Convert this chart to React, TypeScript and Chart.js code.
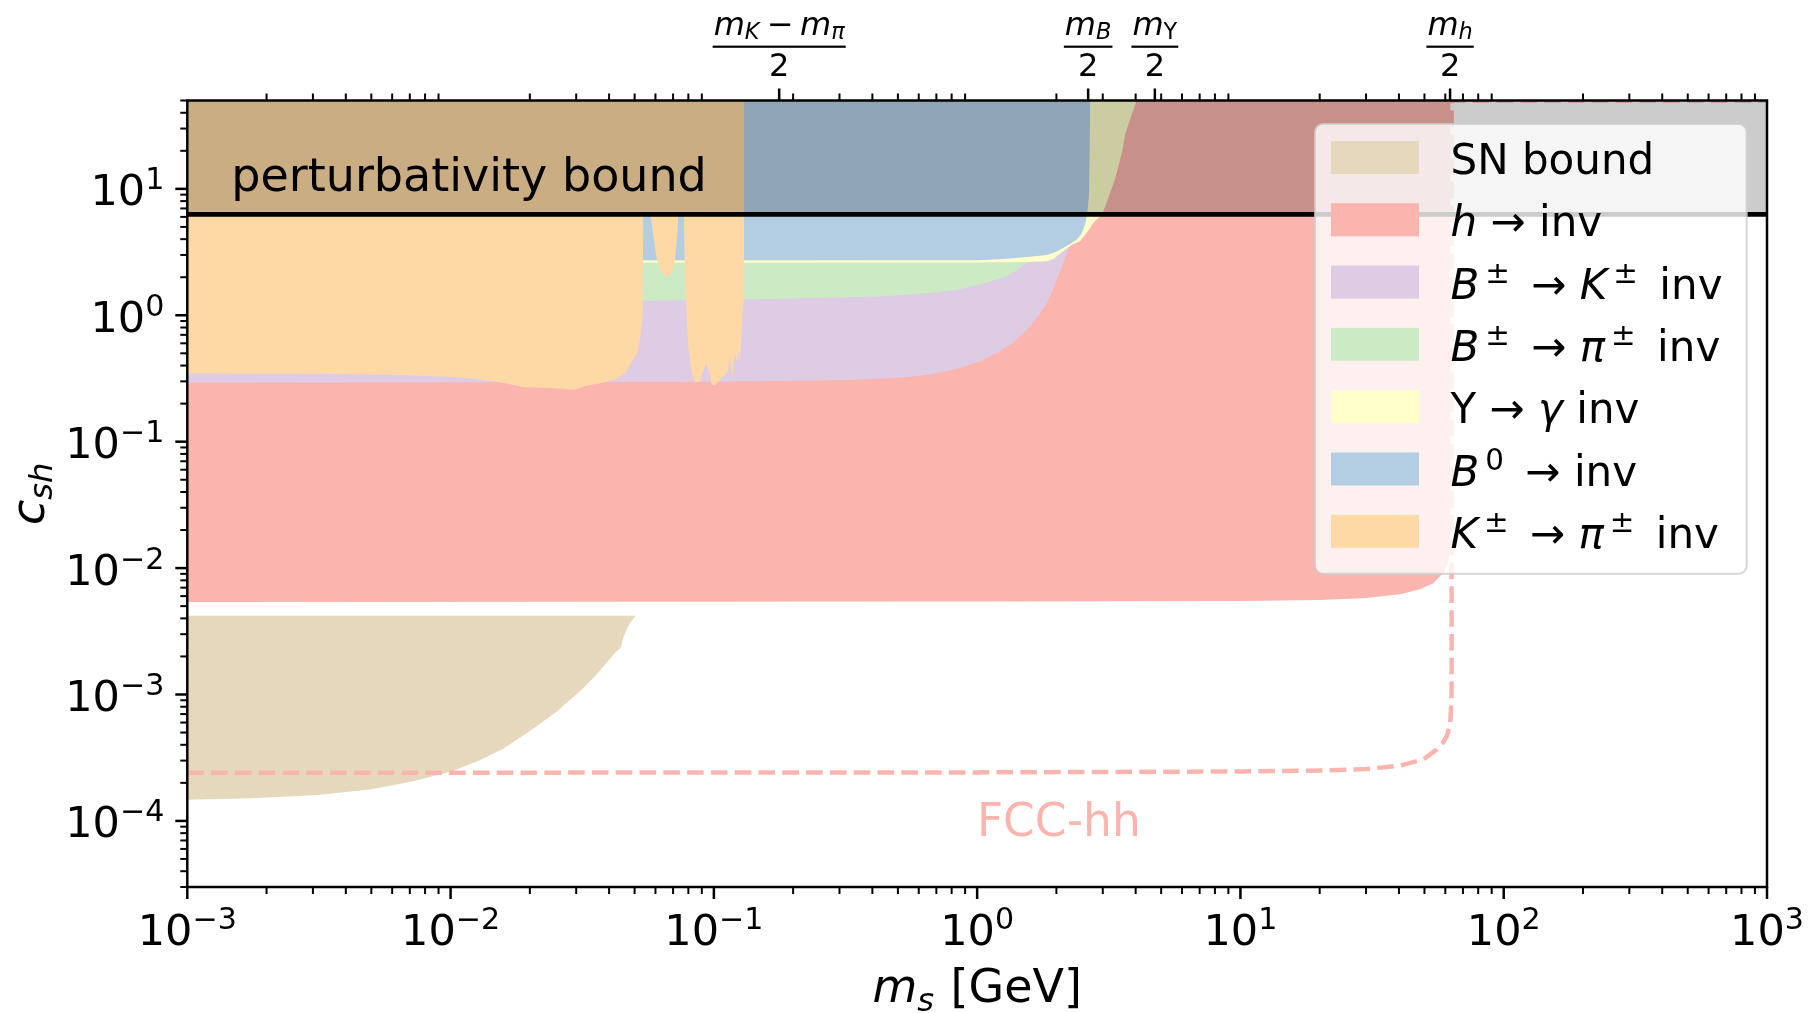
import React, { useEffect, useRef } from 'react';
import { Chart, registerables } from 'chart.js';

Chart.register(...registerables);

// ---------------- data ----------------
const X_MIN = 1e-3;
const X_MAX = 1e3;
const Y_MIN = 3e-5;
const Y_MAX = 50;

const X_TICK_VALUES = [1e-3, 1e-2, 1e-1, 1, 10, 100, 1000];
const X_TICK_LABELS = ['$10^{−3}$', '$10^{−2}$', '$10^{−1}$', '$10^{0}$', '$10^{1}$', '$10^{2}$', '$10^{3}$'];
const Y_TICK_VALUES = [1e-4, 1e-3, 1e-2, 1e-1, 1, 10];
const Y_TICK_LABELS = ['$10^{−4}$', '$10^{−3}$', '$10^{−2}$', '$10^{−1}$', '$10^{0}$', '$10^{1}$'];

const TOP_TICK_MASSES = [0.17705, 2.6397, 4.7302, 62.55];
const TOP_TICK_NUMERATORS = ['$m_K$\u2009−\u2009$m_π$', '$m_B$', '$m_Υ$', '$m_h$'];
const TOP_TICK_DENOMINATOR = '2';

const X_TITLE = '$m_s$ [GeV]';
const Y_TITLE = '$c_{sh}$';

const PERTURBATIVITY_VALUE = 6.28;
const PERTURBATIVITY_LINE: [number, number][] = [[1e-3, PERTURBATIVITY_VALUE], [1e3, PERTURBATIVITY_VALUE]];
const PERTURBATIVITY_TEXT = 'perturbativity bound';
const PERTURBATIVITY_TEXT_AT: [number, number] = [0.00147, 9.7];
const FCC_TEXT = 'FCC-hh';
const FCC_TEXT_AT: [number, number] = [0.998, 7.65e-5];

// lower boundaries of the excluded regions (mass [GeV], c_sh); regions extend to the top
const H_INV: [number, number][] = [
  [1e-3, 0.0054], [1, 0.00545], [10, 0.0055], [20, 0.0056], [30.1, 0.0058], [40.4, 0.0062],
  [48.1, 0.0068], [54, 0.0076], [58.9, 0.0092], [61.5, 0.011], [62.4, 0.014], [62.7, 0.03], [62.8, 50],
];
const B_K_INV: [number, number][] = [
  [1e-3, 0.292], [0.1, 0.298], [0.3, 0.306], [0.428, 0.314], [0.55, 0.325], [0.662, 0.34], [0.85, 0.38],
  [1.025, 0.433], [1.2, 0.51], [1.37, 0.605], [1.5, 0.72], [1.63, 0.87], [1.74, 1.04], [1.84, 1.25],
  [1.93, 1.55], [2.0, 1.91], [2.08, 2.3], [2.15, 2.76], [2.2, 3.15], [2.24, 3.52], [2.28, 4.5], [2.3, 6], [2.32, 50],
];
const B_PI_INV: [number, number][] = [
  [1e-3, 1.28], [0.05, 1.3], [0.15, 1.34], [0.428, 1.41], [0.662, 1.5], [0.85, 1.6], [1.025, 1.75],
  [1.17, 1.9], [1.29, 2.04], [1.38, 2.2], [1.45, 2.37], [1.56, 2.63], [1.65, 3.2], [1.7, 50],
];
const UPSILON_INV: [number, number][] = [
  [1e-3, 2.6], [1.0, 2.62], [1.5, 2.64], [1.84, 2.67], [1.95, 2.8], [2.06, 3.07], [2.18, 3.35], [2.29, 3.62],
  [2.46, 3.85], [2.61, 4.49], [2.76, 5.38], [2.93, 6.07], [3.01, 6.6], [3.15, 8.5], [3.34, 11.9],
  [3.56, 20], [3.65, 27], [3.85, 38], [4.04, 50],
];
const B0_INV: [number, number][] = [
  [1e-3, 2.71], [1.025, 2.73], [1.3, 2.8], [1.58, 2.9], [1.84, 3.0], [2.0, 3.18], [2.12, 3.41], [2.27, 3.7],
  [2.39, 3.97], [2.48, 4.35], [2.53, 4.76], [2.58, 5.4], [2.62, 6.5], [2.66, 9], [2.69, 50],
];
const K_PI_INV: [number, number][] = [
  [1e-3, 0.346], [0.003, 0.344], [0.006, 0.338], [0.0108, 0.323], [0.0153, 0.297], [0.0175, 0.28],
  [0.0188, 0.27], [0.024, 0.266], [0.0295, 0.258], [0.0326, 0.276], [0.037, 0.29], [0.0428, 0.313],
  [0.0463, 0.354], [0.0487, 0.426], [0.0513, 0.51], [0.0524, 0.65], [0.0537, 1.04], [0.0539, 6.4],
  [0.05395, 42], [0.0540, 6.4], [0.0574, 6.4], [0.05745, 12.6], [0.0575, 6.4], [0.0589, 4.21],
  [0.0607, 2.76], [0.0634, 2.16], [0.0662, 2.01], [0.0692, 2.16], [0.0712, 2.76], [0.0726, 4.21],
  [0.0733, 6.4], [0.0768, 6.4], [0.07685, 17], [0.0769, 6.4], [0.0770, 6.4], [0.0776, 1.92], [0.0799, 0.569],
  [0.0824, 0.35], [0.0848, 0.292], [0.0885, 0.301], [0.0931, 0.415], [0.0955, 0.372], [0.0981, 0.283],
  [0.101, 0.278], [0.104, 0.3], [0.1086, 0.33], [0.113, 0.36], [0.1151, 0.474], [0.1175, 0.33],
  [0.1202, 0.505], [0.1225, 0.42], [0.124, 0.536], [0.1256, 0.42], [0.1286, 1.08], [0.13, 1.33], [0.1304, 50],
];
// SN bound: lower boundary, filled up to SN_TOP
const SN_TOP = 0.0042;
const SN_BOUND: [number, number][] = [
  [1e-3, 1.47e-4], [0.00178, 1.51e-4], [0.00316, 1.6e-4], [0.00501, 1.78e-4], [0.00708, 2.04e-4],
  [0.01, 2.45e-4], [0.01259, 2.95e-4], [0.01585, 3.72e-4], [0.01995, 5.13e-4], [0.02512, 7.24e-4],
  [0.03162, 1.1e-3], [0.03548, 1.41e-3], [0.03981, 1.86e-3], [0.0419, 2.11e-3], [0.0443, 2.34e-3],
  [0.0455, 2.9e-3], [0.047, 3.4e-3], [0.049, 3.9e-3], [0.0505, 4.2e-3],
];
// FCC-hh projection (dashed)
const FCC_HH: [number, number][] = [
  [1e-3, 2.4e-4], [1, 2.42e-4], [10, 2.46e-4], [20, 2.5e-4], [30.1, 2.57e-4], [40.4, 2.74e-4],
  [49.5, 3.06e-4], [55.6, 3.67e-4], [58.5, 4.1e-4], [60.7, 4.67e-4], [62.2, 5.5e-4], [62.8, 6.5e-4],
  [63.3, 9e-4], [63.4, 1.5e-3], [63.4, 50], [1000, 50],
];

const LEGEND_LABELS = [
  'SN bound',
  '$h$ → inv',
  '$B^{±}$ → $K^{±}$ inv',
  '$B^{±}$ → $π^{±}$ inv',
  'Υ → $γ$ inv',
  '$B^{0}$ → inv',
  '$K^{±}$ → $π^{±}$ inv',
];
const LEGEND_COLORS = ['#e5d8bd', '#fbb4ae', '#decbe4', '#ccebc5', '#ffffcc', '#b3cde3', '#fed9a6'];

// ---------------- text helpers ----------------
const FONT = '"DejaVu Sans", sans-serif';

type Run = { t: string; it: boolean; lvl: number };
type MathStyle = {
  size: number; scriptScale?: number; rise?: number; drop?: number;
  preSup?: number; postScript?: number; color?: string;
};

function isItalicChar(c: string) {
  return /[A-Za-z\u03b1-\u03c9]/.test(c);
}

function parseMath(s: string): Run[] {
  const runs: Run[] = [];
  const chars = Array.from(s);
  let math = false;
  let i = 0;
  const push = (t: string, it: boolean, lvl: number) => {
    const last = runs[runs.length - 1];
    if (last && last.it === it && last.lvl === lvl) last.t += t;
    else runs.push({ t, it, lvl });
  };
  while (i < chars.length) {
    const c = chars[i];
    if (c === '$') { math = !math; i++; continue; }
    if (math && (c === '^' || c === '_')) {
      const lvl = c === '^' ? 1 : -1;
      i++;
      let grp = '';
      if (chars[i] === '{') {
        i++;
        while (i < chars.length && chars[i] !== '}') grp += chars[i++];
        i++;
      } else {
        grp = chars[i++];
      }
      for (const g of Array.from(grp)) push(g, isItalicChar(g), lvl);
      continue;
    }
    push(c, math && isItalicChar(c), 0);
    i++;
  }
  return runs;
}

function fontStr(it: boolean, size: number) {
  return `${it ? 'italic ' : ''}${size}px ${FONT}`;
}

function layoutMath(ctx: CanvasRenderingContext2D, s: string, st: MathStyle) {
  const runs = parseMath(s);
  const items: { t: string; font: string; x: number; dy: number }[] = [];
  let w = 0;
  runs.forEach((r, i) => {
    const sz = r.lvl === 0 ? st.size : st.size * (st.scriptScale ?? 0.7);
    const f = fontStr(r.it, sz);
    ctx.font = f;
    const prev = runs[i - 1];
    if (r.lvl === 1 && prev && prev.lvl === 0) w += st.preSup ?? 0;
    if (r.lvl === 0 && prev && prev.lvl !== 0) w += st.postScript ?? 0;
    const dy = r.lvl === 1 ? -(st.rise ?? 0) : r.lvl === -1 ? (st.drop ?? 0) : 0;
    items.push({ t: r.t, font: f, x: w, dy });
    w += ctx.measureText(r.t).width;
  });
  return { items, w };
}

function drawMath(
  ctx: CanvasRenderingContext2D, s: string, x: number, y: number, st: MathStyle,
  align: 'left' | 'center' | 'right' = 'left',
) {
  const { items, w } = layoutMath(ctx, s, st);
  const x0 = align === 'left' ? x : align === 'center' ? x - w / 2 : x - w;
  ctx.textAlign = 'left';
  ctx.textBaseline = 'alphabetic';
  ctx.fillStyle = st.color ?? '#000';
  for (const it of items) {
    ctx.font = it.font;
    ctx.fillText(it.t, x0 + it.x, y + it.dy);
  }
  return w;
}

// ---------------- decoration plugin ----------------
const decorPlugin = {
  id: 'decor',
  afterDraw(chart: any) {
    const ctx: CanvasRenderingContext2D = chart.ctx;
    const xs = chart.scales.x;
    const ys = chart.scales.y;
    const a = chart.chartArea;
    ctx.save();

    // in-plot texts
    drawMath(ctx, PERTURBATIVITY_TEXT, xs.getPixelForValue(PERTURBATIVITY_TEXT_AT[0]),
      ys.getPixelForValue(PERTURBATIVITY_TEXT_AT[1]), { size: 46 });
    drawMath(ctx, FCC_TEXT, xs.getPixelForValue(FCC_TEXT_AT[0]), ys.getPixelForValue(FCC_TEXT_AT[1]),
      { size: 45.5, color: '#fbb4ae' });

    // frame
    ctx.strokeStyle = '#000';
    ctx.lineWidth = 2.5;
    ctx.strokeRect(a.left, a.top, a.right - a.left, a.bottom - a.top);

    const tick = (x1: number, y1: number, x2: number, y2: number, w: number) => {
      ctx.lineWidth = w;
      ctx.beginPath();
      ctx.moveTo(x1, y1);
      ctx.lineTo(x2, y2);
      ctx.stroke();
    };
    const MAJ = 12, MIN = 7;

    // bottom x ticks
    for (const v of X_TICK_VALUES) {
      const px = xs.getPixelForValue(v);
      tick(px, a.bottom, px, a.bottom + MAJ, 2.5);
    }
    for (let k = -3; k < 3; k++) {
      for (let m = 2; m <= 9; m++) {
        const v = m * Math.pow(10, k);
        const px = xs.getPixelForValue(v);
        tick(px, a.bottom, px, a.bottom + MIN, 2);
        tick(px, a.top, px, a.top - MIN, 2);
      }
    }
    // top special ticks
    for (const v of TOP_TICK_MASSES) {
      const px = xs.getPixelForValue(v);
      tick(px, a.top, px, a.top - MAJ, 2.5);
    }
    // left y ticks
    for (const v of Y_TICK_VALUES) {
      const py = ys.getPixelForValue(v);
      tick(a.left - MAJ, py, a.left, py, 2.5);
    }
    for (let k = -5; k < 2; k++) {
      for (let m = 2; m <= 9; m++) {
        const v = m * Math.pow(10, k);
        if (v < Y_MIN || v > Y_MAX) continue;
        const py = ys.getPixelForValue(v);
        tick(a.left - MIN, py, a.left, py, 2);
      }
    }

    // tick labels
    const tickStyle: MathStyle = { size: 43, rise: 16 };
    X_TICK_VALUES.forEach((v, i) => {
      drawMath(ctx, X_TICK_LABELS[i], xs.getPixelForValue(v), a.bottom + 58, tickStyle, 'center');
    });
    Y_TICK_VALUES.forEach((v, i) => {
      drawMath(ctx, Y_TICK_LABELS[i], a.left - 23, ys.getPixelForValue(v) + 16.5, tickStyle, 'right');
    });

    // top fraction labels
    const fracStyle: MathStyle = { size: 32, drop: 4, postScript: 1 };
    TOP_TICK_MASSES.forEach((v, i) => {
      const px = xs.getPixelForValue(v);
      const w = drawMath(ctx, TOP_TICK_NUMERATORS[i], px, 35, fracStyle, 'center');
      ctx.fillStyle = '#000';
      ctx.fillRect(px - w / 2 - 1, 45.6, w + 2, 2.2);
      drawMath(ctx, TOP_TICK_DENOMINATOR, px, 76, { size: 32 }, 'center');
    });

    // axis titles
    drawMath(ctx, X_TITLE, (a.left + a.right) / 2, 1002, { size: 46, drop: 9, postScript: 2 }, 'center');
    ctx.save();
    ctx.translate(44, (a.top + a.bottom) / 2);
    ctx.rotate(-Math.PI / 2);
    drawMath(ctx, Y_TITLE, 0, 0, { size: 46, drop: 8 }, 'center');
    ctx.restore();

    // legend
    const lx = 1315, ly = 124, lw = 431.7, lh = 449.7;
    ctx.beginPath();
    (ctx as any).roundRect(lx, ly, lw, lh, 8);
    ctx.fillStyle = 'rgba(255,255,255,0.8)';
    ctx.fill();
    ctx.strokeStyle = 'rgba(204,204,204,0.8)';
    ctx.lineWidth = 2;
    ctx.stroke();
    const legStyle: MathStyle = { size: 42, rise: 16, preSup: 6, postScript: 8 };
    LEGEND_LABELS.forEach((lab, i) => {
      const top = 141 + i * 62.3;
      ctx.fillStyle = LEGEND_COLORS[i];
      ctx.fillRect(1331, top, 88, 33);
      drawMath(ctx, lab, 1450.5, top + 33, legStyle, 'left');
    });

    ctx.restore();
  },
};

// ---------------- chart ----------------
const toXY = (arr: [number, number][]) => arr.map(([x, y]) => ({ x, y }));

function region(label: string, arr: [number, number][], color: string, order: number) {
  return {
    type: 'line', label, data: toXY(arr), order,
    borderWidth: 0, pointRadius: 0, pointHoverRadius: 0, tension: 0,
    backgroundColor: color, fill: 'end',
  };
}

function buildConfig() {
  return {
    type: 'line',
    data: {
      datasets: [
        region('h → inv', H_INV, LEGEND_COLORS[1], 8),
        region('B± → K± inv', B_K_INV, LEGEND_COLORS[2], 7),
        region('B± → π± inv', B_PI_INV, LEGEND_COLORS[3], 6),
        region('Υ → γ inv', UPSILON_INV, LEGEND_COLORS[4], 5),
        region('B0 → inv', B0_INV, LEGEND_COLORS[5], 4),
        region('K± → π± inv', K_PI_INV, LEGEND_COLORS[6], 3),
        {
          type: 'line', label: 'SN bound', data: toXY(SN_BOUND), order: 2,
          borderWidth: 0, pointRadius: 0, tension: 0,
          backgroundColor: LEGEND_COLORS[0], fill: { value: SN_TOP },
        },
        {
          type: 'line', label: 'FCC-hh', data: toXY(FCC_HH), order: 1,
          borderWidth: 4.5, borderColor: '#fbb4ae', borderDash: [16.6, 7.2],
          pointRadius: 0, tension: 0, fill: false,
        },
        {
          type: 'line', label: 'perturbativity', data: toXY(PERTURBATIVITY_LINE), order: 0,
          borderWidth: 4.8, borderColor: '#000', backgroundColor: 'rgba(0,0,0,0.2)',
          pointRadius: 0, tension: 0, fill: 'end',
        },
      ],
    },
    options: {
      responsive: false,
      animation: false,
      devicePixelRatio: 1,
      events: [],
      layout: { padding: { top: 100.5, right: 43, left: 0, bottom: 0 } },
      plugins: { legend: { display: false }, tooltip: { enabled: false } },
      scales: {
        x: {
          type: 'logarithmic', min: X_MIN, max: X_MAX,
          grid: { display: false }, ticks: { display: false }, border: { display: false },
          afterFit: (s: any) => { s.height = 126; },
        },
        y: {
          type: 'logarithmic', min: Y_MIN, max: Y_MAX,
          grid: { display: false }, ticks: { display: false }, border: { display: false },
          afterFit: (s: any) => { s.width = 187.3; },
        },
      },
    },
    plugins: [decorPlugin],
  };
}

export default function App() {
  const ref = useRef<HTMLCanvasElement | null>(null);
  useEffect(() => {
    document.body.style.margin = '0';
    const canvas = ref.current;
    if (!canvas) return;
    const chart = new Chart(canvas, buildConfig() as any);
    return () => chart.destroy();
  }, []);
  return <canvas ref={ref} width={1810} height={1013} style={{ display: 'block' }} />;
}
